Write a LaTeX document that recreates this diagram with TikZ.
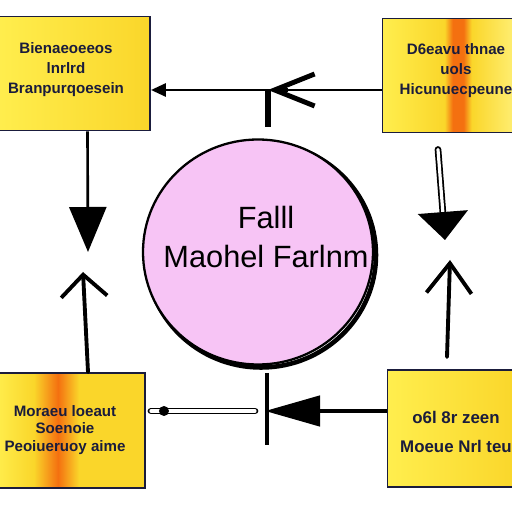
\documentclass[tikz,border=0pt]{standalone}
\usepackage{fontspec}
\setmainfont{Liberation Sans}
\usetikzlibrary{shapes.geometric, arrows.meta, positioning}

\definecolor{boxline}{RGB}{26,28,60}
\definecolor{pinkfill}{RGB}{247,196,245}
\definecolor{ylA}{RGB}{255,238,78}
\definecolor{ylB}{RGB}{250,214,42}
\definecolor{ylC}{RGB}{255,240,120}
\definecolor{orA}{RGB}{244,112,16}

\pgfdeclarehorizontalshading{striperight}{100bp}{color(0bp)=(ylA); color(25bp)=(ylA); color(48bp)=(ylB); color(51bp)=(orA); color(55bp)=(orA); color(58bp)=(ylB); color(75bp)=(ylC); color(100bp)=(ylC)}
\pgfdeclarehorizontalshading{stripeleft}{100bp}{color(0bp)=(ylA); color(25bp)=(ylA); color(38bp)=(ylB); color(46bp)=(orA); color(53bp)=(ylB); color(75bp)=(ylB); color(100bp)=(ylB)}

\begin{document}
\begin{tikzpicture}[>=Triangle,
  box/.style={draw=boxline, line width=1.1pt, rectangle, minimum height=2.28cm},
  boxtext/.style={text=boxline, font=\bfseries\fontsize{8.6}{11.4}\selectfont, align=center},
  hollow/.style={draw, line width=1pt, double=white, double distance=1.8pt, line cap=round}]
	\useasboundingbox (0,0) rectangle (10.24,10.24);
	\fill[white] (0,0) rectangle (10.24,10.24);

	% centre
	\draw [line width=2.6pt] (5.22,5.14) ellipse (2.3 and 2.25);
	\node [ellipse, draw, line width=1.3pt, fill=pinkfill, minimum width=4.6cm, minimum height=4.5cm] (fall) at (5.16,5.2) {};
	\node [align=center, font=\fontsize{17.5}{22.7}\selectfont] (falltext) at (5.32,5.5) {Falll\\Maohel Farlnm};

	% boxes
	\node [box, minimum width=3.1cm, left color=ylA, right color=ylB] (tl) at (1.45,8.77) {};
	\node [box, minimum width=2.7cm, shading=striperight] (tr) at (9.0,8.73) {};
	\node [box, minimum width=3.0cm, minimum height=2.3cm, shading=stripeleft] (bl) at (1.4,1.63) {};
	\node [box, minimum width=2.6cm, minimum height=2.34cm, left color=ylA, right color=ylB] (br) at (9.05,1.67) {};

	\node [boxtext] (tltext) at (1.32,8.84) {Bienaeoeeos\\lnrlrd\\Branpurqoesein};
	\node [boxtext] (trtext) at (9.12,8.82) {D6eavu thnae\\uols\\Hicunuecpeune};
	\node [boxtext, font=\bfseries\fontsize{8.6}{9.8}\selectfont] (bltext) at (1.3,1.64) {Moraeu loeaut\\Soenoie\\Peoiueruoy aime};
	\node [boxtext, font=\bfseries\fontsize{9.6}{16.5}\selectfont] (brtext) at (9.12,1.6) {o6l 8r zeen\\Moeue Nrl teu};

	\coordinate (topknot) at (5.36,8.44);
	\coordinate (botknot) at (5.3,2.02);
	\coordinate (lefttip) at (1.76,5.2);
	\coordinate (leftup) at (1.66,4.8);
	\coordinate (righttip) at (8.9,5.44);
	\coordinate (rightup) at (9.0,5.04);

	% top
	\draw [line width=1.7pt, -{Triangle[length=3mm,width=2.6mm]}] (tr.west |- topknot) -- (tl.east |- topknot);
	\draw [line width=2.8pt, -{Straight Barb[length=8mm,width=6.4mm]}] ([xshift=4mm]topknot) -- (topknot);
	\draw [line width=3pt] (topknot) -- ++(0,-0.74);

	% bottom
	\draw [line width=2.6pt, -{Triangle[length=11mm,width=6mm]}] (br.west |- botknot) -- (botknot);
	\draw [line width=2.8pt] ([shift={(0.04,0.76)}]botknot) -- ++(0,-1.44);
	\draw [hollow] ([xshift=1mm]bl.east |- botknot) -- ([xshift=-2mm]botknot);
	\fill ([xshift=3.6mm]bl.east |- botknot) circle (0.1);

	% left
	\draw [line width=1.5pt, -{Triangle[length=9mm,width=7.4mm]}] ([xshift=3mm]tl.south) -- (lefttip);
	\draw [line width=2.2pt, line cap=round, -{Straight Barb[length=4.4mm,width=9.2mm]}] ([xshift=3.6mm]bl.north) -- (leftup);

	% right
	\draw [hollow, -{Triangle[length=5.6mm,width=10mm]}] ([xshift=-2.4mm,yshift=-3.2mm]tr.south) -- (righttip);
	\draw [line width=2.2pt, line cap=round, -{Straight Barb[length=6mm,width=9mm]}] ([xshift=-1.1mm,yshift=2.4mm]br.north) -- (rightup);
\end{tikzpicture}
\end{document}
